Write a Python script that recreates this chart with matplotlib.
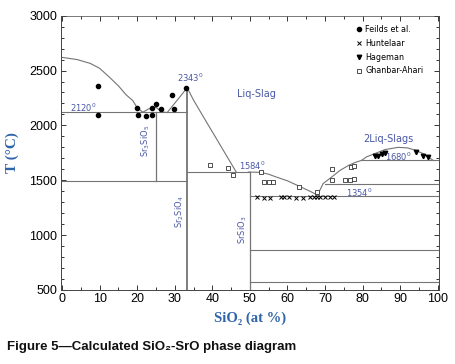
import matplotlib
matplotlib.use("Agg")
import matplotlib.pyplot as plt
from matplotlib.ticker import MultipleLocator

# ---------------- data ----------------
# liquidus segments (SiO2 at%, T in C)
liq1_x = [0, 4, 7.5, 10, 12.7, 15, 17, 18.8, 20, 21.5]
liq1_T = [2620, 2600, 2565, 2520, 2436, 2360, 2280, 2227, 2160, 2120]
liq2_x = [21.5, 23, 25, 26.5, 28]
liq2_T = [2120, 2150, 2165, 2122, 2118]
liq3_x = [28, 33.3]
liq3_T = [2118, 2343]
liq4_x = [33.3, 35, 38, 41, 44, 46.4]
liq4_T = [2343, 2230, 2056, 1884, 1711, 1573]
liq5_x = [49.6, 52.9, 55, 57, 60, 63.2, 66, 68]
liq5_T = [1575, 1572, 1555, 1530, 1495, 1445, 1400, 1365]
liq6_x = [68, 69.5, 71.8, 74, 76.3, 78, 79.8]
liq6_T = [1365, 1470, 1530, 1590, 1636, 1662, 1682]
dome_x = [79.8, 81, 83.4, 86, 89.5, 92, 94, 96, 97.5, 98.8]
dome_T = [1682, 1712, 1745, 1780, 1800, 1795, 1775, 1745, 1712, 1682]

# horizontal invariant lines: (x_start, x_end, T)
h_x0 = [0, 0, 33.3, 50, 70, 50, 50, 79.8]
h_x1 = [33.3, 33.3, 50, 100, 100, 100, 100, 100]
h_T = [2120, 1495, 1572, 1354, 1465, 864, 573, 1682]
# vertical compound lines: (x, T_low, T_high)
v_x = [25, 33.3, 50]
v_T0 = [1495, 500, 500]
v_T1 = [2120, 2343, 1575]

# experimental data
feilds_x = [9.6, 9.5, 20.0, 20.2, 22.4, 24.0, 24.0, 25.1, 26.4, 29.2, 29.7, 33.0]
feilds_T = [2355, 2091, 2157, 2091, 2082, 2157, 2091, 2191, 2152, 2273, 2152, 2343]
hunt_x = [51.8, 53.8, 55.4, 58.2, 59.1, 60.4, 62.2, 64.1, 66.1, 67.0, 67.9, 68.8, 70.1, 71.4, 72.3]
hunt_T = [1352, 1338, 1338, 1350, 1350, 1350, 1336, 1336, 1350, 1350, 1350, 1350, 1350, 1350, 1350]
hage_x = [83.2, 84.2, 85.1, 86.0, 94.3, 96.2, 97.5]
hage_T = [1720, 1725, 1740, 1745, 1755, 1722, 1710]
ghan_x = [39.5, 44.3, 45.4, 52.9, 53.8, 55.0, 56.2, 63.2, 67.9, 71.8, 71.9, 75.4, 76.7, 77.6, 76.8, 77.7]
ghan_T = [1636, 1610, 1545, 1575, 1485, 1480, 1480, 1440, 1397, 1606, 1500, 1500, 1506, 1515, 1625, 1630]

x_ticks = [0, 10, 20, 30, 40, 50, 60, 70, 80, 90, 100]
y_ticks = [500, 1000, 1500, 2000, 2500, 3000]

# ---------------- plot ----------------
LINE = "#747474"
TXT = "#4a58a6"
AXB = "#2f64a8"

fig = plt.figure(figsize=(4.56, 3.64), dpi=100)
ax = fig.add_axes([0.133, 0.2033, 0.830, 0.7536])

for xs, ts in [(liq1_x, liq1_T), (liq2_x, liq2_T), (liq3_x, liq3_T), (liq4_x, liq4_T),
               (liq5_x, liq5_T), (liq6_x, liq6_T), (dome_x, dome_T)]:
    ax.plot(xs, ts, color=LINE, lw=0.8)

for x0, x1, t in zip(h_x0, h_x1, h_T):
    ax.plot([x0, x1], [t, t], color=LINE, lw=0.8)
for x, t0, t1 in zip(v_x, v_T0, v_T1):
    ax.plot([x, x], [t0, t1], color=LINE, lw=1.3 if x == 33.3 else 0.9)

ax.plot(feilds_x, feilds_T, 'o', ms=3.0, color='black', ls='none', label='Feilds et al.')
ax.plot(hunt_x, hunt_T, 'x', ms=2.2, mew=0.7, color='black', ls='none', label='Huntelaar')
ax.plot(hage_x, hage_T, 'v', ms=3.2, color='black', ls='none', label='Hageman')
ax.plot(ghan_x, ghan_T, 's', ms=2.8, mfc='white', mec='#333333', mew=0.6, ls='none', label='Ghanbar-Ahari')

ax.legend(loc='upper right', bbox_to_anchor=(0.975, 0.99), frameon=False, fontsize=5.8,
          handletextpad=0.3, labelspacing=0.6, handlelength=0.8, borderpad=0.3)

# annotations
fs = 6
ax.text(5.6, 2160, '2120$^0$', color=TXT, fontsize=fs, ha='center', va='center')
ax.text(34.2, 2430, '2343$^0$', color=TXT, fontsize=fs, ha='center', va='center')
ax.text(22.3, 1860, 'Sr$_3$SiO$_5$', color=TXT, fontsize=fs, ha='center', va='center', rotation=90)
ax.text(31.3, 1215, 'Sr$_2$SiO$_4$', color=TXT, fontsize=fs, ha='center', va='center', rotation=90)
ax.text(48.1, 1045, 'SrSiO$_3$', color=TXT, fontsize=fs, ha='center', va='center', rotation=90)
ax.text(50.6, 1630, '1584$^0$', color=TXT, fontsize=fs, ha='center', va='center')
ax.text(79.2, 1388, '1354$^0$', color=TXT, fontsize=fs, ha='center', va='center')
ax.text(89.5, 1712, '1680$^0$', color=TXT, fontsize=fs, ha='center', va='center')
ax.text(51.7, 2290, 'Liq-Slag', color=TXT, fontsize=7, ha='center', va='center')
ax.text(86.9, 1880, '2Liq-Slags', color=TXT, fontsize=7, ha='center', va='center')

ax.set_xlim(-0.4, 100.4)
ax.set_ylim(500, 3000)
ax.set_xticks(x_ticks)
ax.set_yticks(y_ticks)
ax.xaxis.set_minor_locator(MultipleLocator(5))
ax.yaxis.set_minor_locator(MultipleLocator(100))
ax.tick_params(which='both', direction='in', top=True, right=True, width=0.7, colors='#333333',
               labelcolor='black')
ax.tick_params(which='major', length=3.5, labelsize=9, pad=2.5)
ax.tick_params(which='minor', length=2)
for lab in ax.get_xticklabels() + ax.get_yticklabels():
    lab.set_family(['Liberation Sans', 'DejaVu Sans'])
for s in ax.spines.values():
    s.set_linewidth(0.7)
    s.set_color('#444444')
ax.spines['top'].set_linewidth(0.5)

ax.set_xlabel('SiO₂ (at %)', color=AXB, fontsize=10.5, fontweight='bold',
              family=['Liberation Serif', 'DejaVu Serif'], labelpad=4)
ax.set_ylabel('T (°C)', color=AXB, fontsize=11, fontweight='bold',
              family=['Liberation Serif', 'DejaVu Serif'])
ax.yaxis.set_label_coords(-0.11, 0.5)

fig.text(0.015, 0.03, 'Figure 5—Calculated SiO₂-SrO phase diagram', fontsize=9.5, fontweight='bold',
         family=['Liberation Sans', 'DejaVu Sans'], color='#111111', ha='left', va='bottom')

fig.savefig('out.png', dpi=100)
